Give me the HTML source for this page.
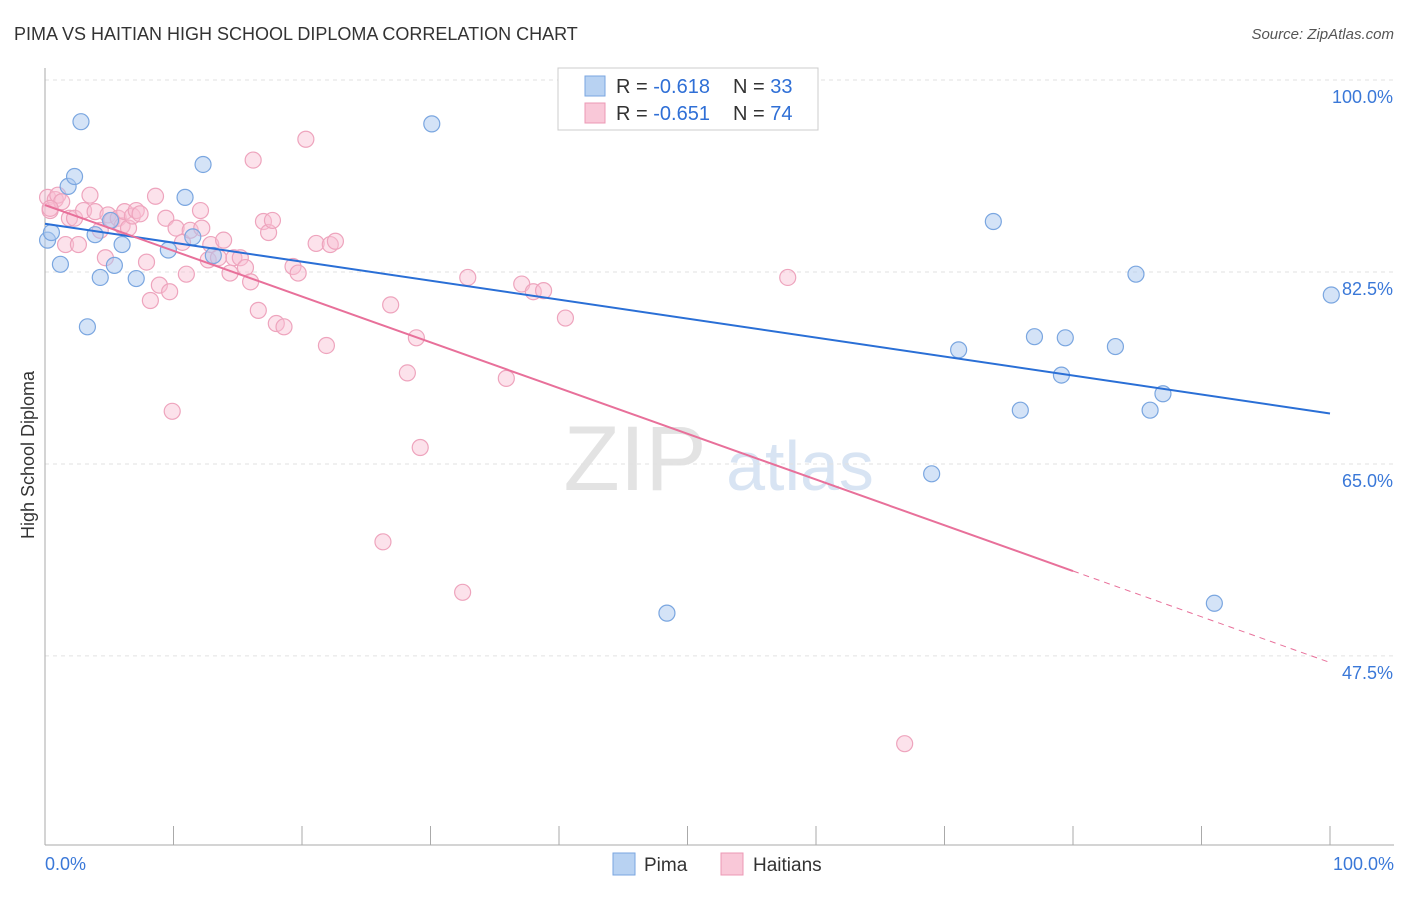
<!DOCTYPE html>
<html><head><meta charset="utf-8"><style>
body{margin:0;background:#fff;font-family:"Liberation Sans",sans-serif;}
svg text{font-family:"Liberation Sans",sans-serif;}
</style></head><body>
<svg id="chart" width="1406" height="892" xmlns="http://www.w3.org/2000/svg">
<text x="14" y="40" font-size="18" fill="#333">PIMA VS HAITIAN HIGH SCHOOL DIPLOMA CORRELATION CHART</text>
<text x="1394" y="39" font-size="15" fill="#555" font-style="italic" text-anchor="end">Source: ZipAtlas.com</text>
<text x="34" y="455" font-size="18" fill="#333" text-anchor="middle" transform="rotate(-90 34 455)">High School Diploma</text>
<g><text x="635" y="490" font-size="92" fill="#e3e3e3" font-family="Liberation Serif" text-anchor="middle">ZIP</text><text x="800" y="490" font-size="70" fill="#d8e4f3" text-anchor="middle">atlas</text></g>
<g id="grid"></g><g id="axes"></g><g id="marks"></g>
<g>
<rect x="558" y="68" width="260" height="62" fill="#fff" stroke="#ccc"/>
<rect x="585" y="76" width="20" height="20" fill="#b8d2f2" stroke="#7aa6e0"/>
<rect x="585" y="103" width="20" height="20" fill="#f9c8d8" stroke="#ec98b5"/>
<text x="616" y="93" font-size="20" fill="#333">R = <tspan fill="#2f6fd6">-0.618</tspan></text>
<text x="733" y="93" font-size="20" fill="#333">N = <tspan fill="#2f6fd6">33</tspan></text>
<text x="616" y="120" font-size="20" fill="#333">R = <tspan fill="#2f6fd6">-0.651</tspan></text>
<text x="733" y="120" font-size="20" fill="#333">N = <tspan fill="#2f6fd6">74</tspan></text>
</g>
<g>
<rect x="613" y="853" width="22" height="22" fill="#b8d2f2" stroke="#7aa6e0"/>
<text x="644" y="871" font-size="19" fill="#333">Pima</text>
<rect x="721" y="853" width="22" height="22" fill="#f9c8d8" stroke="#ec98b5"/>
<text x="753" y="871" font-size="19" fill="#333">Haitians</text>
</g>
</svg>
<script>
const yTicks=[100,82.5,65,47.5];
const yTickLabels=["100.0%","82.5%","65.0%","47.5%"];
const xTicks=[0,10,20,30,40,50,60,70,80,90,100];
const pimaX=[0.2,0.5,1.2,1.8,2.3,2.8,3.3,3.9,4.3,5.1,5.4,6.0,7.1,9.6,10.9,12.3,11.5,13.1,30.1,48.4,69.0,71.1,73.8,75.9,77.0,79.1,79.4,83.3,84.9,86.0,87.0,91.0,100.1];
const pimaY=[85.4,86.1,83.2,90.3,91.2,96.2,77.5,85.9,82.0,87.2,83.1,85.0,81.9,84.5,89.3,92.3,85.7,84.0,96.0,51.4,64.1,75.4,87.1,69.9,76.6,73.1,76.5,75.7,82.3,69.9,71.4,52.3,80.4];
const haitX=[0.2,0.4,0.8,1.0,1.3,1.6,1.9,2.3,2.6,3.0,3.5,3.9,4.3,4.7,4.9,5.2,5.7,6.0,6.2,6.5,6.8,7.1,7.4,7.9,8.2,8.6,8.9,9.4,9.7,9.9,10.2,10.7,11.0,11.3,12.1,12.2,12.7,12.9,13.5,13.9,14.4,14.7,15.2,15.6,16.0,16.2,16.6,17.0,17.4,17.7,18.0,18.6,19.3,19.7,20.3,21.1,21.9,22.2,22.6,26.3,26.9,28.2,28.9,29.2,32.5,32.9,35.9,37.1,38.0,38.8,40.5,57.8,66.9,0.4];
const haitY=[89.3,88.1,89.1,89.5,88.9,85.0,87.4,87.4,85.0,88.1,89.5,88.0,86.3,83.8,87.7,87.2,87.4,86.7,88.0,86.5,87.6,88.1,87.8,83.4,79.9,89.4,81.3,87.4,80.7,69.8,86.5,85.2,82.3,86.3,88.1,86.5,83.6,85.0,83.8,85.4,82.4,83.8,83.8,82.9,81.6,92.7,79.0,87.1,86.1,87.2,77.8,77.5,83.0,82.4,94.6,85.1,75.8,85.0,85.3,57.9,79.5,73.3,76.5,66.5,53.3,82.0,72.8,81.4,80.7,80.8,78.3,82.0,39.5,88.3];
const pimaTrend=[86.9,69.6];
const haitTrend=[88.6,46.9];
const haitSolidEnd=80;
const X=v=>45+v*12.85, Y=v=>80+(100-v)*10.97;
const NS="http://www.w3.org/2000/svg";
function mk(t,a,p){const e=document.createElementNS(NS,t);for(const k in a)e.setAttribute(k,a[k]);p.appendChild(e);return e;}
const grid=document.getElementById('grid'),axes=document.getElementById('axes'),marks=document.getElementById('marks');
mk('line',{x1:45,x2:1394,y1:80,y2:80,stroke:'#ddd','stroke-dasharray':'4 4'},grid);
yTicks.forEach((t,i)=>{
 const g=mk('line',{x1:45,x2:1394,y1:Y(t),y2:Y(t),stroke:'#e2e2e2','stroke-dasharray':'4 4'},grid);
 
 
 const l=mk('text',{x:1393,y:Y(t)+23,'font-size':18,fill:'#3a78d8','text-anchor':'end'},axes);l.textContent=yTickLabels[i];
 
 
});
mk('line',{x1:45,x2:45,y1:68,y2:845,stroke:'#aaa'},axes);
mk('line',{x1:45,x2:1394,y1:845,y2:845,stroke:'#aaa'},axes);
xTicks.forEach(t=>{const l=mk('line',{x1:X(t),x2:X(t),y1:826,y2:845,stroke:'#aaa'},axes);
 
 });
let t=mk('text',{x:45,y:870,'font-size':18,fill:'#3a78d8'},axes);t.textContent='0.0%';


t=mk('text',{x:1394,y:870,'font-size':18,fill:'#3a78d8','text-anchor':'end'},axes);t.textContent='100.0%';


haitX.forEach((x,i)=>{const c=mk('circle',{cx:X(x),cy:Y(haitY[i]),r:8,fill:'rgba(249,190,210,0.45)',stroke:'#eea4bd','stroke-width':1.2},marks);
 
 });
pimaX.forEach((x,i)=>{const c=mk('circle',{cx:X(x),cy:Y(pimaY[i]),r:8,fill:'rgba(170,200,240,0.5)',stroke:'#7aa6e0','stroke-width':1.2},marks);
 
 });
const hy=x=>haitTrend[0]+(haitTrend[1]-haitTrend[0])*x/100;
let ln=mk('line',{x1:X(0),y1:Y(pimaTrend[0]),x2:X(100),y2:Y(pimaTrend[1]),stroke:'#2a6fd6','stroke-width':2},marks);


ln=mk('line',{x1:X(0),y1:Y(hy(0)),x2:X(haitSolidEnd),y2:Y(hy(haitSolidEnd)),stroke:'#e8709a','stroke-width':2},marks);


ln=mk('line',{x1:X(haitSolidEnd),y1:Y(hy(haitSolidEnd)),x2:X(100),y2:Y(hy(100)),stroke:'#e8709a','stroke-width':1,'stroke-dasharray':'6 5'},marks);


</script>
</body></html>
